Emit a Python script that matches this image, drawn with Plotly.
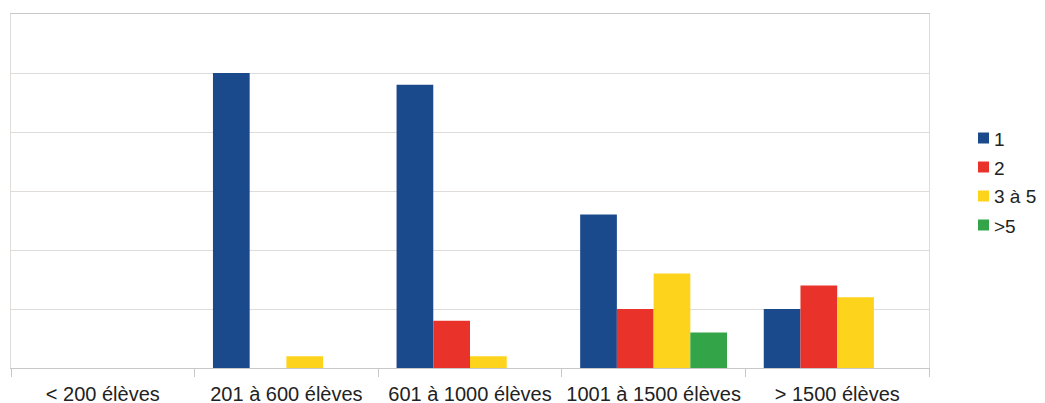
import plotly.graph_objects as go

categories = ["< 200 élèves", "201 à 600 élèves", "601 à 1000 élèves", "1001 à 1500 élèves", "> 1500 élèves"]
series_names = ["1", "2", "3 à 5", ">5"]
v1 = [0, 25, 24, 13, 5]
v2 = [0, 0, 4, 5, 7]
v35 = [0, 1, 1, 8, 6]
v5 = [0, 0, 0, 3, 0]
colors = ["#1b4a8c", "#e8322a", "#fdd31c", "#33a447"]

fig = go.Figure()
for name, vals, col in zip(series_names, [v1, v2, v35, v5], colors):
    fig.add_trace(go.Bar(name=name, x=categories, y=vals, marker_color=col,
                         marker_line_width=0, showlegend=False))

# plot area in page pixels (page has an 8px body margin)
PX_L, PX_R, PX_T, PX_B = 11, 929, 14, 368
def px_x(p):
    return (p - PX_L) / (PX_R - PX_L)
def px_y(p):
    return (PX_B - p) / (PX_B - PX_T)

# manual legend (compact symbol/text spacing as in the reference)
leg_top, leg_step, sym = 138, 29, 11
shapes, annotations = [], []
for i, (name, col) in enumerate(zip(series_names, colors)):
    cy = leg_top + i * leg_step
    shapes.append(dict(type="rect", xref="paper", yref="paper",
                       x0=px_x(978), x1=px_x(978 + sym),
                       y0=px_y(cy + sym / 2), y1=px_y(cy - sym / 2),
                       fillcolor=col, line_width=0))
    annotations.append(dict(xref="paper", yref="paper", x=px_x(992), y=px_y(cy + 1),
                            xanchor="left", yanchor="middle", text=name, showarrow=False,
                            font=dict(size=19, color="#222222")))

fig.update_layout(
    width=1045, height=403,
    margin=dict(l=3, r=124, t=6, b=43),
    barmode="group", bargap=0.2, bargroupgap=0,
    plot_bgcolor="white", paper_bgcolor="white",
    font=dict(family="Liberation Sans, Arial, sans-serif", size=20, color="#222222"),
    showlegend=False,
    shapes=shapes, annotations=annotations,
    xaxis=dict(type="category", tickson="boundaries", ticks="outside", ticklen=8,
               tickcolor="#c8c8c8", showline=True, linecolor="#c8c8c8", linewidth=1,
               mirror=True, showgrid=False, ticklabelstandoff=8,
               tickfont=dict(size=20, color="#222222")),
    yaxis=dict(range=[0, 30], dtick=5, showticklabels=False, showgrid=True,
               gridcolor="#dedbd8", gridwidth=1, showline=True, linecolor="#dedbd8",
               mirror=True, zeroline=False, ticks=""),
)
fig.write_html("out.html")
